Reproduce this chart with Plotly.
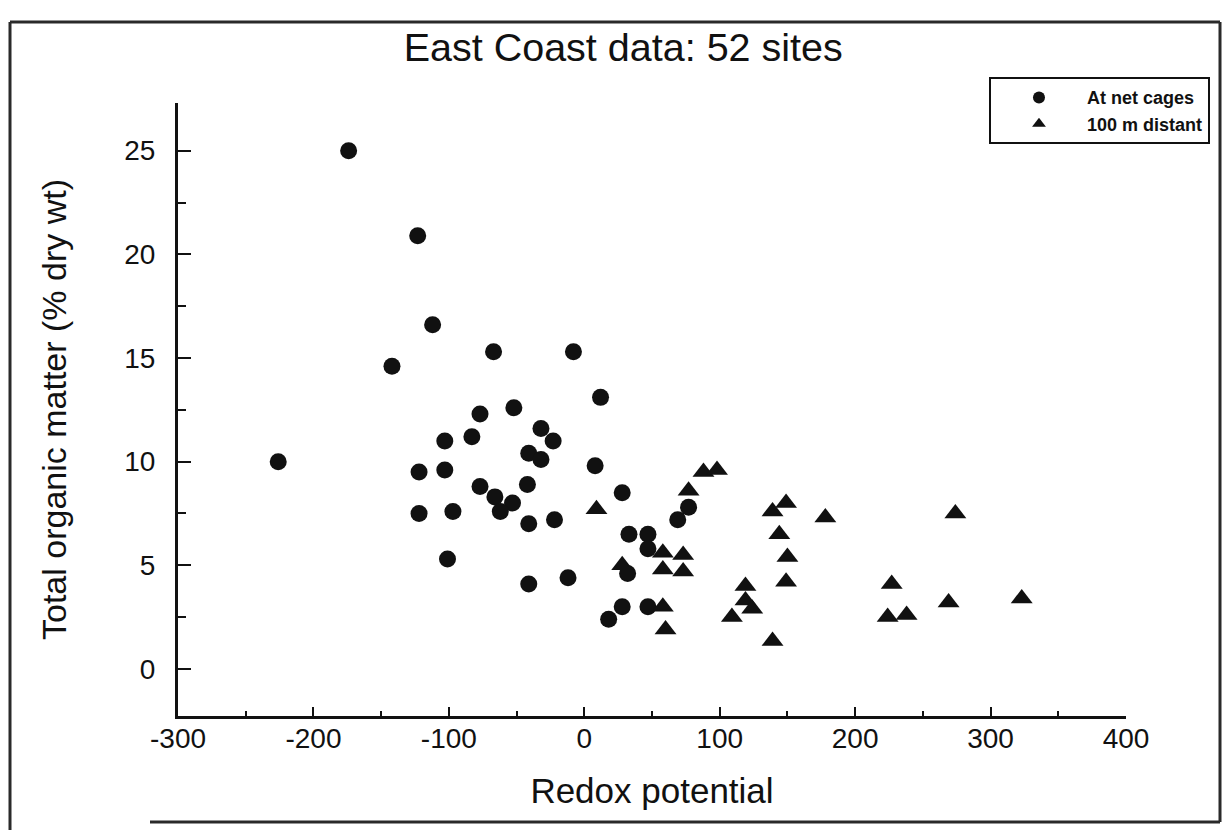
import plotly.graph_objects as go

# Redox potential (mV) and total organic matter (% dry wt) per sample
cage_redox = [-174, -123, -112, -142, -67, -8, 12, -77, -52, -83, -103, -32, -23,
              -41, -32, 8, -226, -122, -103, -77, -42, -66, -53, -62, -122, -97,
              -41, -22, -101, -41, -12, 28, 69, 77, 33, 47, 47, 32, 28, 18, 47]
cage_tom = [25.0, 20.9, 16.6, 14.6, 15.3, 15.3, 13.1, 12.3, 12.6, 11.2, 11.0, 11.6, 11.0,
            10.4, 10.1, 9.8, 10.0, 9.5, 9.6, 8.8, 8.9, 8.3, 8.0, 7.6, 7.5, 7.6,
            7.0, 7.2, 5.3, 4.1, 4.4, 8.5, 7.2, 7.8, 6.5, 6.5, 5.8, 4.6, 3.0, 2.4, 3.0]

distant_redox = [9, 77, 88, 98, 139, 149, 178, 274, 144, 150, 149, 28, 58, 58,
                 73, 73, 58, 60, 109, 119, 119, 124, 139, 224, 238, 227, 269, 323]
distant_tom = [7.7, 8.6, 9.5, 9.6, 7.6, 8.0, 7.3, 7.5, 6.5, 5.4, 4.2, 5.0, 5.6, 4.8,
               5.5, 4.7, 3.0, 1.9, 2.5, 4.0, 3.3, 2.9, 1.35, 2.5, 2.6, 4.1, 3.2, 3.4]

x_ticks = [-300, -200, -100, 0, 100, 200, 300, 400]
y_ticks = [0, 5, 10, 15, 20, 25]

INK = "#111111"
FONT = "Liberation Sans, Arial, sans-serif"

fig = go.Figure()
fig.add_trace(go.Scatter(
    x=cage_redox, y=cage_tom, mode="markers", name="At net cages",
    marker=dict(symbol="circle", size=17, color=INK, line=dict(width=0)),
))
fig.add_trace(go.Scatter(
    x=distant_redox, y=distant_tom, mode="markers", name="100 m distant",
    marker=dict(symbol="triangle-up", size=19, color=INK, line=dict(width=0)),
))

L, R, T, B = 178, 96, 103, 114
fig.update_layout(
    width=1222, height=830,
    margin=dict(l=L, r=R, t=T, b=B),
    paper_bgcolor="white", plot_bgcolor="white",
    font=dict(family=FONT, color=INK),
    title=dict(text="East Coast data: 52 sites", x=0.51, xanchor="center",
               y=0.943, yanchor="middle", font=dict(size=39.5, color=INK)),
    showlegend=True,
    legend=dict(x=1.0886, xanchor="right", y=1.042, yanchor="top",
                bgcolor="white", bordercolor=INK, borderwidth=2,
                font=dict(size=18, color=INK, weight="bold"), itemsizing="constant",
                itemwidth=86, tracegroupgap=0),
    xaxis=dict(
        range=[-300, 400], tickvals=x_ticks, ticktext=[str(v) for v in x_ticks],
        showgrid=False, zeroline=False, showline=True, linecolor=INK, linewidth=3,
        ticks="inside", ticklen=9, tickwidth=2, tickcolor=INK,
        minor=dict(dtick=50, ticks="inside", ticklen=5, tickwidth=2, tickcolor=INK),
        tickfont=dict(size=28, color=INK), ticklabelstandoff=-5,
        title=dict(text="Redox potential", font=dict(size=35, color=INK), standoff=26),
    ),
    yaxis=dict(
        range=[-2.27, 27.3], tickvals=y_ticks, ticktext=[str(v) for v in y_ticks],
        showgrid=False, zeroline=False, showline=True, linecolor=INK, linewidth=3,
        ticks="inside", ticklen=13, tickwidth=2, tickcolor=INK,
        minor=dict(dtick=2.5, ticks="inside", ticklen=8, tickwidth=2, tickcolor=INK),
        tickfont=dict(size=28, color=INK), ticklabelstandoff=14,
        title=dict(text="Total organic matter (% dry wt)", font=dict(size=34, color=INK),
                   standoff=48),
    ),
)

# Page frame around the figure
frame = dict(type="line", xref="paper", yref="paper", line=dict(color="#2a2a2a", width=3))
W, H = 1222, 830
pw, ph = W - L - R, H - T - B

def px_to_paper(px, py):
    return (px - L) / pw, (H - B - py) / ph

x0, y0 = px_to_paper(10, 22)
x1, y1 = px_to_paper(1220, 822)
xb, _ = px_to_paper(150, 0)
_, ybot = px_to_paper(0, 830)
fig.add_shape(frame, x0=x0, y0=y0, x1=x1, y1=y0)
fig.add_shape(frame, x0=x0, y0=y0, x1=x0, y1=ybot)
fig.add_shape(frame, x0=x1, y0=y0, x1=x1, y1=y1)
fig.add_shape(frame, x0=xb, y0=y1, x1=x1, y1=y1)

fig.write_html("out.html")
